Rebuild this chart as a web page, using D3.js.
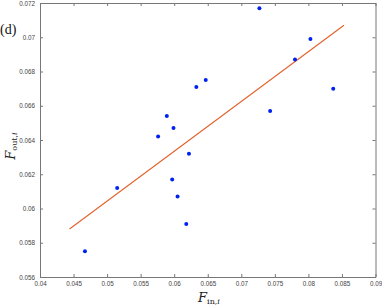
<!DOCTYPE html>
<html>
<head>
<meta charset="utf-8">
<script src="https://cdn.jsdelivr.net/npm/d3@7"></script>
<style>
  body { margin: 0; background: #fff; }
  svg { display: block; }
  .tick text { font-family: "Liberation Sans", Arial, sans-serif; font-size: 6.3px; fill: #444; }
  .tick line, .domain { stroke: #777; }
</style>
</head>
<body>
<div id="chart"></div>
<script>
// measured F_in,i and F_out,i values
var finValues  = [0.0467, 0.0515, 0.0589, 0.0599, 0.0576, 0.0622, 0.0597, 0.0605, 0.0618, 0.0633, 0.0647, 0.0727, 0.0803, 0.0780, 0.0837, 0.0743];
var foutValues = [0.0575, 0.0612, 0.0654, 0.0647, 0.0642, 0.0632, 0.0617, 0.0607, 0.0591, 0.0671, 0.0675, 0.0717, 0.0699, 0.0687, 0.0670, 0.0657];

// linear fit end points
var fitX = [0.0444, 0.0853];
var fitY = [0.0588, 0.0707];

var xTicks = [0.04, 0.045, 0.05, 0.055, 0.06, 0.065, 0.07, 0.075, 0.08, 0.085, 0.09];
var yTicks = [0.056, 0.058, 0.06, 0.062, 0.064, 0.066, 0.068, 0.07, 0.072];

var width = 382, height = 305;
var margins = {top: 3, right: 6.5, bottom: 28, left: 40};

var svg = d3.select("#chart").append("svg")
    .attr("width", width)
    .attr("height", height);

var x = d3.scaleLinear()
    .domain([0.04, 0.09])
    .range([margins.left, width - margins.right]);
var y = d3.scaleLinear()
    .domain([0.056, 0.072])
    .range([height - margins.bottom, margins.top]);

function fmt(d){ return String(+d.toFixed(3)); }

/* Axes - ticks point inward, box on all sides */
svg.append("g")
    .attr("transform", "translate(0," + y(0.056) + ")")
    .call(d3.axisBottom(x).tickValues(xTicks).tickFormat(fmt).tickSizeInner(-3).tickSizeOuter(0).tickPadding(5));
svg.append("g")
    .attr("transform", "translate(0," + y(0.072) + ")")
    .call(d3.axisTop(x).tickValues(xTicks).tickFormat("").tickSizeInner(-3).tickSizeOuter(0));
svg.append("g")
    .attr("transform", "translate(" + x(0.04) + ",0)")
    .call(d3.axisLeft(y).tickValues(yTicks).tickFormat(fmt).tickSizeInner(-3).tickSizeOuter(0).tickPadding(5));
svg.append("g")
    .attr("transform", "translate(" + x(0.09) + ",0)")
    .call(d3.axisRight(y).tickValues(yTicks).tickFormat("").tickSizeInner(-3).tickSizeOuter(0));

/* Fit line */
var line = d3.line()
    .x(function(d){ return x(d[0]); })
    .y(function(d){ return y(d[1]); });
svg.append("path")
    .attr("d", line(d3.zip(fitX, fitY)))
    .attr("fill", "none")
    .attr("stroke", "#e2622b")
    .attr("stroke-width", 1.1);

/* Points */
svg.selectAll(".pt")
    .data(d3.zip(finValues, foutValues))
    .enter()
    .append("circle")
        .attr("class", "pt")
        .attr("cx", function(d){ return x(d[0]); })
        .attr("cy", function(d){ return y(d[1]); })
        .attr("r", 2)
        .attr("fill", "#0022ee");

/* Labels */
var serif = "'DejaVu Serif', 'Liberation Serif', serif";
var xl = svg.append("text")
    .attr("x", 209).attr("y", 302)
    .attr("text-anchor", "middle")
    .attr("font-family", serif)
    .attr("fill", "#222");
xl.append("tspan").attr("font-style", "italic").attr("font-size", 13).text("F");
xl.append("tspan").attr("font-size", 8).attr("dy", 2).text("in,");
xl.append("tspan").attr("font-size", 8).attr("font-style", "italic").text("i");

var yl = svg.append("text")
    .attr("transform", "translate(15,146) rotate(-90)")
    .attr("text-anchor", "middle")
    .attr("font-family", serif)
    .attr("fill", "#222");
yl.append("tspan").attr("font-style", "italic").attr("font-size", 13).text("F");
yl.append("tspan").attr("font-size", 8).attr("dy", 2).text("out,");
yl.append("tspan").attr("font-size", 8).attr("font-style", "italic").text("i");

svg.append("text")
    .attr("x", 0).attr("y", 34)
    .attr("font-family", "'Liberation Serif', serif")
    .attr("font-size", 14)
    .attr("fill", "#111")
    .text("(d)");
</script>
</body>
</html>
